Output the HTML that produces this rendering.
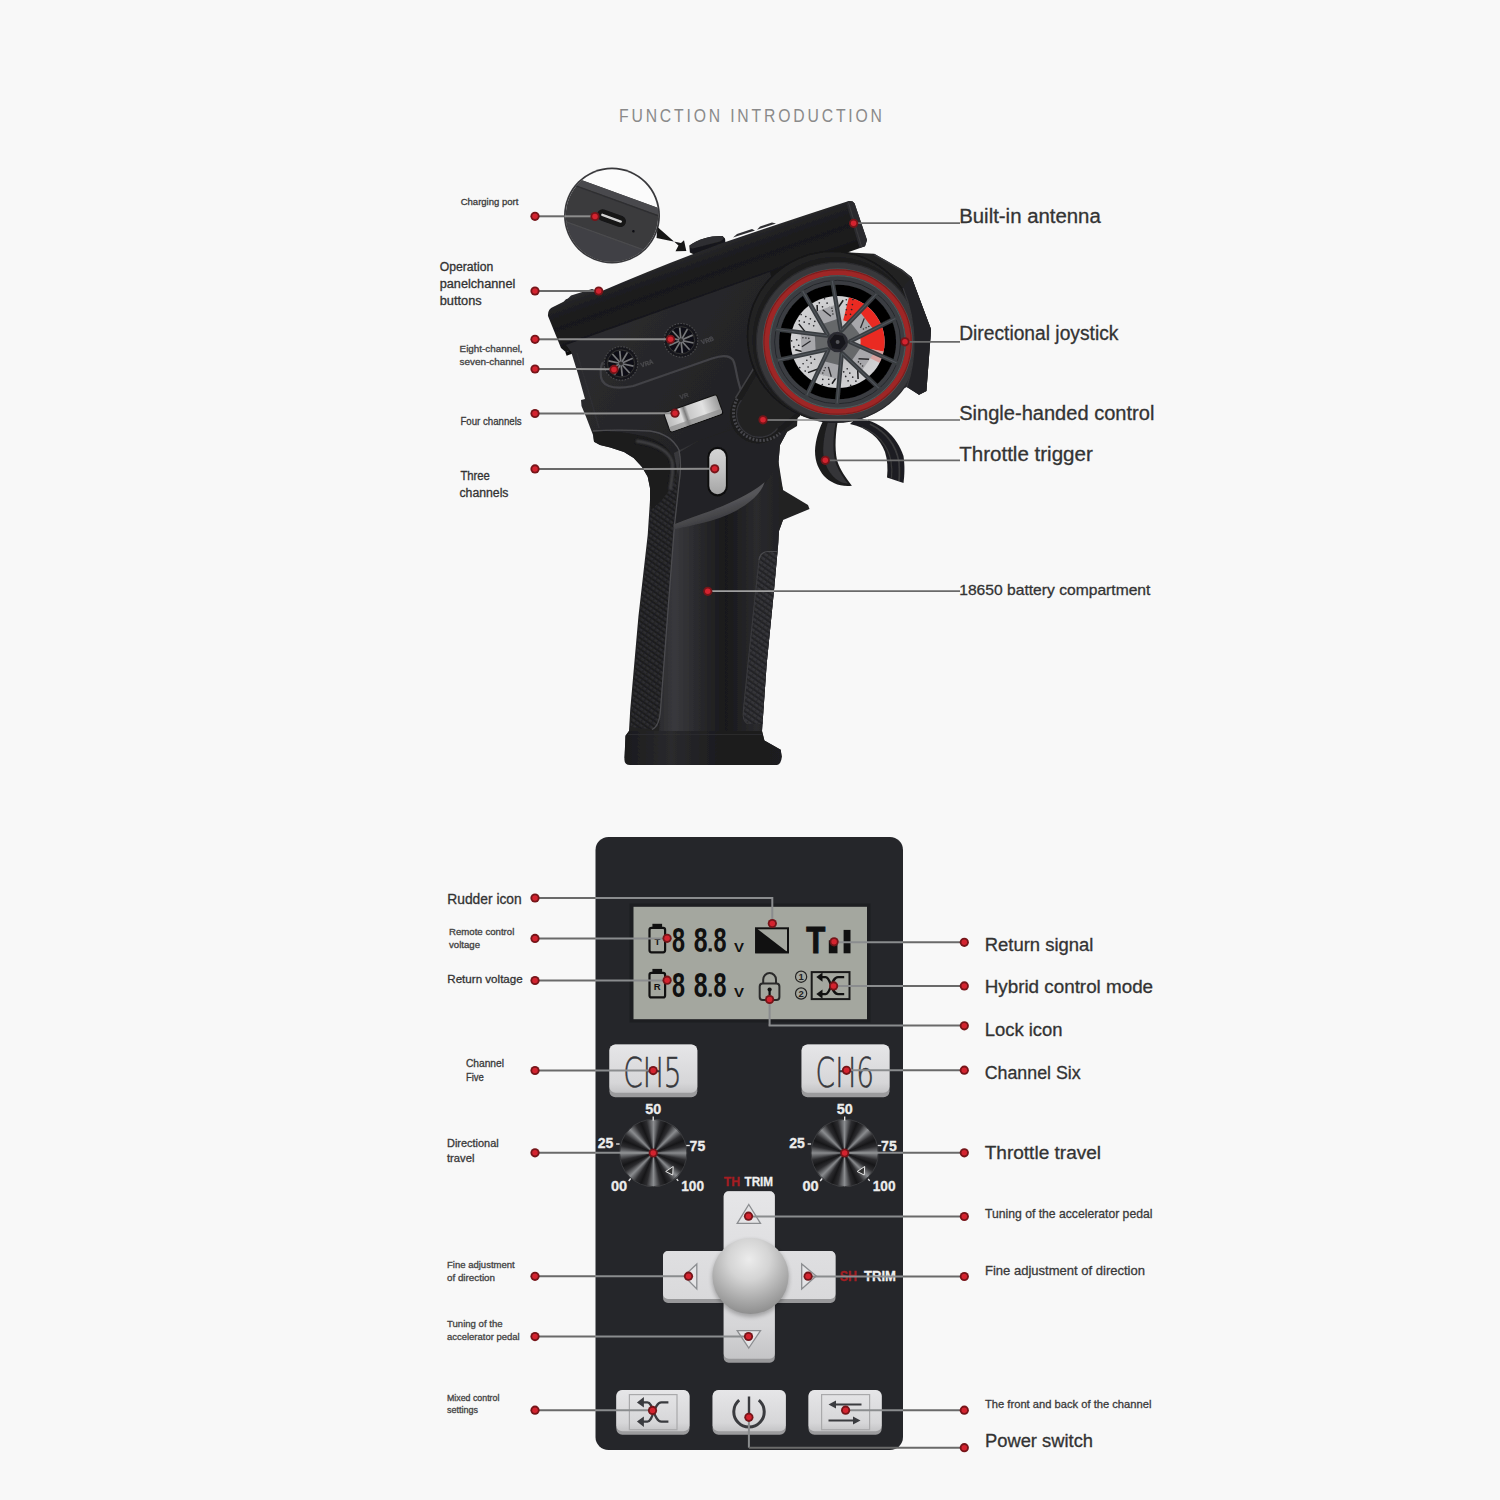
<!DOCTYPE html>
<html lang="en"><head><meta charset="utf-8"><title>Function Introduction</title>
<style>
html,body{margin:0;padding:0;background:#f8f8f8;}
body{width:1500px;height:1500px;overflow:hidden;font-family:"Liberation Sans",sans-serif;}
svg{display:block;}
svg text{font-family:"Liberation Sans",sans-serif;}
</style></head><body>
<svg width="1500" height="1500" viewBox="0 0 1500 1500">
<defs>

<linearGradient id="btnG" x1="0" y1="0" x2="0" y2="1"><stop offset="0" stop-color="#e6e6e8"/><stop offset="0.8" stop-color="#d6d6d8"/><stop offset="1" stop-color="#c4c4c6"/></linearGradient>
<radialGradient id="ballG" cx="0.48" cy="0.28" r="0.78"><stop offset="0" stop-color="#ececec"/><stop offset="0.35" stop-color="#d4d4d4"/><stop offset="0.7" stop-color="#a9a9a9"/><stop offset="1" stop-color="#858585"/></radialGradient>
<filter id="blur1" x="-20%" y="-20%" width="140%" height="140%"><feGaussianBlur stdDeviation="1"/></filter>
<filter id="blur2" x="-20%" y="-20%" width="140%" height="140%"><feGaussianBlur stdDeviation="2"/></filter>
<filter id="blur4" x="-30%" y="-30%" width="160%" height="160%"><feGaussianBlur stdDeviation="4"/></filter>
<filter id="blur05" x="-20%" y="-20%" width="140%" height="140%"><feGaussianBlur stdDeviation="0.5"/></filter>

</defs>
<rect width="1500" height="1500" fill="#f8f8f8"/>
<defs>
<linearGradient id="bandG" gradientUnits="userSpaceOnUse" x1="700" y1="250" x2="716" y2="295"><stop offset="0" stop-color="#29292c"/><stop offset="0.2" stop-color="#202022"/><stop offset="0.55" stop-color="#19191b"/><stop offset="0.85" stop-color="#1c1c1e"/><stop offset="1" stop-color="#131315"/></linearGradient>
<linearGradient id="gripG" gradientUnits="userSpaceOnUse" x1="660" y1="0" x2="780" y2="0"><stop offset="0" stop-color="#2c2c2f"/><stop offset="0.12" stop-color="#39393d"/><stop offset="0.3" stop-color="#2b2b2e"/><stop offset="0.55" stop-color="#19191b"/><stop offset="0.8" stop-color="#2a2a2d"/><stop offset="1" stop-color="#222224"/></linearGradient>
<linearGradient id="faceG" gradientUnits="userSpaceOnUse" x1="580" y1="360" x2="760" y2="470"><stop offset="0" stop-color="#2b2b2e"/><stop offset="0.5" stop-color="#252528"/><stop offset="1" stop-color="#202022"/></linearGradient>
<linearGradient id="silverG" x1="0" y1="0" x2="1" y2="0"><stop offset="0" stop-color="#b9b9b9"/><stop offset="0.28" stop-color="#dedede"/><stop offset="0.36" stop-color="#7d7d7d"/><stop offset="0.42" stop-color="#c9c9c9"/><stop offset="0.7" stop-color="#e2e2e2"/><stop offset="1" stop-color="#9c9c9c"/></linearGradient>
<linearGradient id="silverV" x1="0" y1="0" x2="0" y2="1"><stop offset="0" stop-color="#d4d4d4"/><stop offset="0.5" stop-color="#c2c2c2"/><stop offset="1" stop-color="#a5a5a5"/></linearGradient>
<pattern id="carbon" width="4.6" height="4.6" patternUnits="userSpaceOnUse" patternTransform="rotate(35)"><rect width="4.6" height="4.6" fill="#1c1c1e"/><rect width="4.6" height="2.5" fill="#2d2d30"/><rect x="0" y="0" width="1.4" height="4.6" fill="#1f1f21" opacity="0.7"/></pattern>
<pattern id="carbon2" width="4.6" height="4.6" patternUnits="userSpaceOnUse" patternTransform="rotate(35)"><rect width="4.6" height="4.6" fill="#222225"/><rect width="4.6" height="2.5" fill="#36363a"/><rect x="0" y="0" width="1.4" height="4.6" fill="#262629" opacity="0.7"/></pattern>
<radialGradient id="discG" cx="0.5" cy="0.5" r="0.5"><stop offset="0" stop-color="#a9a9ab"/><stop offset="0.5" stop-color="#c4c4c6"/><stop offset="1" stop-color="#d2d2d4"/></radialGradient>
<linearGradient id="ridgeG" gradientUnits="userSpaceOnUse" x1="715" y1="505" x2="720" y2="522"><stop offset="0" stop-color="#56565a"/><stop offset="1" stop-color="#38383b"/></linearGradient>
<linearGradient id="baseG" gradientUnits="userSpaceOnUse" x1="624" y1="0" x2="782" y2="0"><stop offset="0" stop-color="#1b1b1d"/><stop offset="0.3" stop-color="#2a2a2d"/><stop offset="0.65" stop-color="#1a1a1c"/><stop offset="1" stop-color="#1e1e20"/></linearGradient>
<filter id="txblur" filterUnits="userSpaceOnUse" x="530" y="150" width="420" height="630"><feGaussianBlur stdDeviation="0.55"/></filter>
<clipPath id="insetClip"><circle cx="612" cy="215.5" r="46.2"/></clipPath>
<clipPath id="discClip"><circle cx="837.6" cy="342" r="47"/></clipPath>
</defs>
<g id="tx" filter="url(#txblur)">
<g id="trigger">
<path d="M825 417 C819 428 815.500 440 815 451 C815 462 819 470 824 476 C831 483 840 487 851.900 485.700 C846 478 840 470 837 460 C834.500 448 835.500 432 838.500 417 Z" fill="#1c1c1e"/>
<path d="M829 419 C824.500 432 822.500 445 823.500 456 C825 466 830 474 836 479 C840 482 844 483.500 848 483.500 C842 476 836.500 468 834.500 458 C832.500 446 833.500 432 836.500 419 Z" fill="#343437"/>
<path d="M856 418 C880 420 897 436 903.5 456 C905 466 904.5 476 903.5 483 L887 477.5 C888 468 887.5 460 885 452 C880 438 868 428 850 424 Z" fill="#1f1f21"/>
<path d="M870 424 C886 432 896 446 899 462 C899.5 470 899.5 476 899 481" fill="none" stroke="#3b3b3e" stroke-width="1.6"/>
<path d="M862 427 C878 434 888 446 891 461 C892 468 892 474 891.5 478.500" fill="none" stroke="#38383b" stroke-width="1.2"/>
</g>
<path d="M760.0 300.0 L790.0 262.0 L840.0 252.0 L874.0 253.7 L902.0 269.6 L911.5 277.0 L931.0 329.3 L930.0 344.0 L926.4 391.0 L919.0 394.7 L906.8 387.0 L880.0 400.0 L800.0 410.0 L750.0 380.0 Z" fill="#222224"/>
<path d="M874 254.500 L902 270.4 L911 278 L930 330 L929 344" fill="none" stroke="#343437" stroke-width="1.5"/>
<path d="M911.5 278 L931 329.3 L930 344 L926.4 391 L919 394.7 L912 389 C920 365 922 330 905 285 Z" fill="#2a2a2d"/>
<path d="M567 299.500 L571 295.6 L592 289 L596.500 290.500 Z" fill="#2b2b2d"/>
<path d="M689.3 245.6 L689.9 252.500 L694 254.500 L725.5 243 L725 238.500 L722.4 236 C712 235.500 700 238 689.3 245.6 Z" fill="#19191b"/>
<path d="M690 245.200 C698 239 712 235.600 722.400 236 C724.500 237.500 724 239.500 720 241.500 C710 244 698 247.500 692.500 248.500 C690 248.500 689.500 246.500 690 245.200 Z" fill="#2d2d30"/>
<path d="M733 237.500 L737 234 L752 229 L755 230.500 Z" fill="#2f2f32"/>
<path d="M757 229.700 L760 226.6 L772 222.6 L776 223.400 Z" fill="#2f2f32"/>
<path d="M548 316 Q547.5 309 553.5 306.8 L563.500 301.8 L566 299.2 L595.5 289.7 L599 292.3 Q650 270.5 690 255.3 L724 242.6 Q790 220 848 201.3 Q852.5 200.2 854.6 203.500 L867 240 L865 246.2 L566 352.2 L561 348 Z" fill="url(#bandG)"/>
<path d="M848 201.3 Q852.5 200.2 854.6 203.500 L867 240 L865 246.2 L859.5 248 L846.5 204 Z" fill="#2b2b2e"/>
<path d="M848.500 202.5 L861.5 246.500" stroke="#3a3a3d" stroke-width="1" fill="none"/>
<path d="M566 354 L620 333.800 L694.700 306 L769.300 277.300" stroke="#0e0e10" stroke-width="3.500" fill="none" filter="url(#blur05)"/>
<path d="M571.0 351.5 L578.0 374.0 L585.0 399.0 L581.0 400.0 L581.5 406.0 L586.5 418.0 L593.0 435.0 L594.0 441.7 L600.0 445.0 L610.3 447.5 L624.0 452.0 L633.7 458.0 L642.0 467.0 L647.7 476.7 L650.0 488.0 L650.0 500.0 L647.7 535.0 L638.4 616.7 L630.2 710.0 L629.0 731.0 L625.5 735.8 L624.6 758.0 L629.0 763.0 L778.0 763.0 L781.5 756.8 L780.7 749.8 L764.4 740.5 L762.0 731.0 L766.7 663.4 L773.7 593.4 L778.4 542.0 L779.0 531.0 L783.0 520.0 L809.5 509.0 L808.0 505.0 L783.0 490.0 L780.0 478.0 L778.5 462.0 L780.0 445.0 L787.0 432.0 L797.0 426.0 L800.0 380.0 L770.0 272.0 L566.0 345.0 Z" fill="url(#faceG)"/>
<path d="M674.0 453.0 L679.0 480.0 L674.5 525.0 L667.5 616.7 L660.5 710.0 L659.0 731.0 L762.0 731.0 L766.7 663.4 L773.7 593.4 L778.4 542.0 L779.0 531.0 L783.0 520.0 L783.0 490.0 L778.5 462.0 L740.0 440.0 L700.0 440.0 Z" fill="url(#gripG)"/>
<path d="M680 452 L674.5 524.5 C700 515 740 503 764.4 485 L778.5 462 L780 445 L787 432 L760 420 L700 440 Z" fill="#232325"/>
<path d="M629 731 L625.5 735.8 L624.4 759.500 Q624.500 765 630 765 L777 765 Q781 764.500 781.9 756.8 L780.7 749.8 L764.4 740.5 L762 731 Z" fill="url(#baseG)"/>
<path d="M628 734.500 L762 734.500" stroke="#2e2e31" stroke-width="1.2" fill="none" opacity="0.8"/>
<path d="M651.0 500.0 L648.5 535.0 L639.5 616.7 L631.5 710.0 L630.5 727.0 L652.0 729.5 L658.0 726.0 L660.5 710.0 L667.5 616.7 L673.4 523.4 L677.0 490.0 L676.0 470.0 L655.0 470.0 Z" fill="url(#carbon)"/>
<path d="M759 560 Q760 551.5 769 551.5 L777.5 551.5 L773.7 593.4 L766.7 663.4 L762.5 724 L748 724 Q742 722 743.4 710 L748 663.4 L757.4 570 Z" fill="url(#carbon2)"/>
<path d="M759 560 Q760 551.5 769 551.5 L777.5 551.5" stroke="#4a4a4e" stroke-width="1.2" fill="none"/>
<path d="M759 560 L748 663.4 L743.4 710 Q742 722 748 724" stroke="#3a3a3d" stroke-width="1" fill="none"/>
<path d="M594 441.700 L600 445 L610.3 447.500 L624 452 L633.700 458 L642 467 L647.700 476.700 L650 488 L650 500 L651 510 C662 500 672 490 676 474 C678 458 668 444 650 438 C630 432 612 431 593 431 Z" fill="#1a1a1c"/>
<path d="M636 441 C652 443 668 449 672 461 C674 470 672 480 670 490" stroke="#424245" stroke-width="3" fill="none" filter="url(#blur1)"/>
<path d="M593 431 C612 429.500 632 430 650 431 C664 433 674 440 679 450 C681.500 462 680.500 474 679 484 L674.5 525 L667.5 616.7 L660.5 710 Q659.500 726 652 729.5" stroke="#4c4c50" stroke-width="1.3" fill="none"/>
<path d="M577 353 L591 400 L599 428" stroke="#303033" stroke-width="1.2" fill="none"/>
<path d="M673.500 524.500 C700 514 740 503 764.600 482.300 C760 498 738 513 710 521 C697 524.500 684 527 674 529.500 Z" fill="url(#ridgeG)"/>
<path d="M603 362 C600.500 366 600.500 369 600.7 372.7 C600 386 612 390.500 633.3 386 L712 358.500 C722 355 729 354.500 733 360 C736 366 736 374 738.500 382 C740 388 741 391 742 394" stroke="#424246" stroke-width="2.200" fill="none"/>
<circle cx="621" cy="363.5" r="16.8" fill="#19191b" stroke="#4a4a4e" stroke-width="1.1" stroke-dasharray="1.6 1.4"/>
<circle cx="621" cy="363.5" r="13.600000000000001" fill="#101012" stroke="#3a3a3d" stroke-width="0.8"/>
<path d="M621.0 363.5 L633.5 366.2" stroke="#77787c" stroke-width="1.700"/>
<path d="M621.0 363.5 L629.6 373.0" stroke="#77787c" stroke-width="1.700"/>
<path d="M621.0 363.5 L622.3 376.2" stroke="#77787c" stroke-width="1.700"/>
<path d="M621.0 363.5 L614.6 374.6" stroke="#77787c" stroke-width="1.700"/>
<path d="M621.0 363.5 L609.3 368.7" stroke="#77787c" stroke-width="1.700"/>
<path d="M621.0 363.5 L608.5 360.8" stroke="#77787c" stroke-width="1.700"/>
<path d="M621.0 363.5 L612.4 354.0" stroke="#77787c" stroke-width="1.700"/>
<path d="M621.0 363.5 L619.7 350.8" stroke="#77787c" stroke-width="1.700"/>
<path d="M621.0 363.5 L627.4 352.4" stroke="#77787c" stroke-width="1.700"/>
<path d="M621.0 363.5 L632.7 358.3" stroke="#77787c" stroke-width="1.700"/>
<circle cx="621" cy="363.5" r="2" fill="#2a2a2c"/>
<circle cx="681" cy="340.3" r="16.8" fill="#19191b" stroke="#4a4a4e" stroke-width="1.1" stroke-dasharray="1.6 1.4"/>
<circle cx="681" cy="340.3" r="13.600000000000001" fill="#101012" stroke="#3a3a3d" stroke-width="0.8"/>
<path d="M681.0 340.3 L693.5 343.0" stroke="#77787c" stroke-width="1.700"/>
<path d="M681.0 340.3 L689.6 349.8" stroke="#77787c" stroke-width="1.700"/>
<path d="M681.0 340.3 L682.3 353.0" stroke="#77787c" stroke-width="1.700"/>
<path d="M681.0 340.3 L674.6 351.4" stroke="#77787c" stroke-width="1.700"/>
<path d="M681.0 340.3 L669.3 345.5" stroke="#77787c" stroke-width="1.700"/>
<path d="M681.0 340.3 L668.5 337.6" stroke="#77787c" stroke-width="1.700"/>
<path d="M681.0 340.3 L672.4 330.8" stroke="#77787c" stroke-width="1.700"/>
<path d="M681.0 340.3 L679.7 327.6" stroke="#77787c" stroke-width="1.700"/>
<path d="M681.0 340.3 L687.4 329.2" stroke="#77787c" stroke-width="1.700"/>
<path d="M681.0 340.3 L692.7 335.1" stroke="#77787c" stroke-width="1.700"/>
<circle cx="681" cy="340.3" r="2" fill="#2a2a2c"/>
<text x="641.5" y="367.5" font-size="6.5" fill="#4a4a4d" font-weight="bold" text-anchor="start" textLength="13.0" lengthAdjust="spacingAndGlyphs" stroke="#4a4a4d" stroke-width="0.3" transform="rotate(-19 641.5 367.5)">VRA</text>
<text x="702.0" y="344.5" font-size="6.5" fill="#4a4a4d" font-weight="bold" text-anchor="start" textLength="13.0" lengthAdjust="spacingAndGlyphs" stroke="#4a4a4d" stroke-width="0.3" transform="rotate(-19 702 344.5)">VRB</text>
<g transform="rotate(-19.5 694 413.500)">
<rect x="665" y="402.5" width="57" height="21.500" rx="2.500" fill="#111"/>
<rect x="666" y="403.5" width="55" height="19.500" rx="2" fill="url(#silverG)"/>
<rect x="666" y="418" width="55" height="5" rx="2" fill="#8d8d8d" opacity="0.7"/>
</g>
<text x="680.5" y="399.5" font-size="6" fill="#444447" font-weight="bold" text-anchor="start" textLength="9.0" lengthAdjust="spacingAndGlyphs" stroke="#444447" stroke-width="0.3" transform="rotate(-19 680.5 399.5)">VR</text>
<rect x="707.4" y="446.8" width="20.400" height="49.600" rx="10.200" fill="#0e0e10"/>
<rect x="709.3" y="449" width="16.600" height="45.200" rx="8.300" fill="url(#silverV)"/>
<path d="M762 355 L735.500 398 A27.700 27.700 0 0 0 781 432 L800 416 L800 360 Z" fill="#1b1b1d"/>
<path d="M737.200 398.800 A27.700 27.700 0 0 0 780 433" fill="none" stroke="#47474b" stroke-width="3" stroke-dasharray="1.900 1.600"/>
<path d="M735.500 398 L762 355" stroke="#3f3f43" stroke-width="1.500" fill="none"/>
<path d="M764 362 L741.500 400 A22.500 22.500 0 0 0 777.500 428.500 L798 412 L798 366 Z" fill="#212124"/>
<path d="M741.500 400 A22.500 22.500 0 0 0 777.500 428.500" fill="none" stroke="#343438" stroke-width="1.300"/>
<circle cx="832" cy="336" r="85" fill="#222224"/>
<circle cx="832" cy="336" r="84.5" fill="none" stroke="#151517" stroke-width="1.6"/>
<circle cx="835.5" cy="340" r="83" fill="#1c1c1e"/>
<g transform="translate(0 342) scale(1 0.98) translate(0 -342)">
<circle cx="837.6" cy="342" r="81.3" fill="#38383b"/>
<circle cx="837.6" cy="342" r="81.3" fill="none" stroke="#2a2a2d" stroke-width="1.2"/>
<circle cx="837.6" cy="342" r="75" fill="#50575a"/>
<circle cx="837.6" cy="342" r="71.2" fill="none" stroke="#9f2725" stroke-width="6"/>
<circle cx="837.6" cy="342" r="73.6" fill="none" stroke="#7d1f1f" stroke-width="1.2"/>
<circle cx="837.6" cy="342" r="68.2" fill="#3b3e42"/>
<circle cx="837.6" cy="342" r="67.6" fill="none" stroke="#55605f" stroke-width="0.8"/>
<circle cx="837.6" cy="342" r="63" fill="none" stroke="#24262a" stroke-width="1"/>
<circle cx="837.6" cy="342" r="58.5" fill="#050506"/>
<circle cx="837.6" cy="342" r="47" fill="url(#discG)"/>
<g clip-path="url(#discClip)">
<path d="M849.2 295.4 A48 48 0 0 1 884.6 352.0 L860.1 346.8 A23 23 0 0 0 843.2 319.7 Z" fill="#ea2a20"/>
<path d="M884.6 352.0 A48 48 0 0 1 880.4 363.8 L858.1 352.4 A23 23 0 0 0 860.1 346.8 Z" fill="#dd7e79" opacity="0.55"/>
<path d="M839.8 372.9 L832.0 384.6" stroke="#1a1a1c" stroke-width="1.5"/>
<circle cx="829.3" cy="369.8" r="0.85" fill="#26262a"/>
<circle cx="824.7" cy="370.2" r="0.85" fill="#26262a"/>
<circle cx="828.9" cy="374.9" r="0.85" fill="#26262a"/>
<circle cx="823.6" cy="375.2" r="0.85" fill="#26262a"/>
<circle cx="828.7" cy="380.0" r="0.85" fill="#26262a"/>
<circle cx="822.8" cy="380.2" r="0.85" fill="#26262a"/>
<circle cx="828.9" cy="385.1" r="0.85" fill="#26262a"/>
<circle cx="822.3" cy="385.4" r="0.85" fill="#26262a"/>
<path d="M821.2 368.3 L808.0 373.2" stroke="#1a1a1c" stroke-width="1.5"/>
<circle cx="814.6" cy="359.6" r="0.85" fill="#26262a"/>
<circle cx="810.6" cy="357.2" r="0.85" fill="#26262a"/>
<circle cx="811.2" cy="363.4" r="0.85" fill="#26262a"/>
<circle cx="806.8" cy="360.6" r="0.85" fill="#26262a"/>
<circle cx="808.1" cy="367.5" r="0.85" fill="#26262a"/>
<circle cx="803.1" cy="364.2" r="0.85" fill="#26262a"/>
<circle cx="805.2" cy="371.7" r="0.85" fill="#26262a"/>
<circle cx="799.7" cy="368.1" r="0.85" fill="#26262a"/>
<path d="M808.9 353.6 L795.3 349.9" stroke="#1a1a1c" stroke-width="1.5"/>
<circle cx="808.6" cy="342.7" r="0.85" fill="#26262a"/>
<circle cx="806.8" cy="338.4" r="0.85" fill="#26262a"/>
<circle cx="803.6" cy="343.8" r="0.85" fill="#26262a"/>
<circle cx="801.7" cy="338.9" r="0.85" fill="#26262a"/>
<circle cx="798.7" cy="345.3" r="0.85" fill="#26262a"/>
<circle cx="796.7" cy="339.7" r="0.85" fill="#26262a"/>
<circle cx="793.9" cy="347.0" r="0.85" fill="#26262a"/>
<circle cx="791.6" cy="340.8" r="0.85" fill="#26262a"/>
<path d="M807.5 334.5 L798.8 323.5" stroke="#1a1a1c" stroke-width="1.5"/>
<circle cx="813.7" cy="325.5" r="0.85" fill="#26262a"/>
<circle cx="814.8" cy="321.0" r="0.85" fill="#26262a"/>
<circle cx="809.1" cy="323.5" r="0.85" fill="#26262a"/>
<circle cx="810.4" cy="318.4" r="0.85" fill="#26262a"/>
<circle cx="804.2" cy="321.8" r="0.85" fill="#26262a"/>
<circle cx="805.8" cy="316.1" r="0.85" fill="#26262a"/>
<circle cx="799.3" cy="320.4" r="0.85" fill="#26262a"/>
<circle cx="801.1" cy="314.0" r="0.85" fill="#26262a"/>
<path d="M817.7 318.3 L817.1 304.2" stroke="#1a1a1c" stroke-width="1.5"/>
<circle cx="828.0" cy="314.6" r="0.85" fill="#26262a"/>
<circle cx="831.5" cy="311.6" r="0.85" fill="#26262a"/>
<circle cx="825.4" cy="310.3" r="0.85" fill="#26262a"/>
<circle cx="829.5" cy="306.9" r="0.85" fill="#26262a"/>
<circle cx="822.5" cy="306.1" r="0.85" fill="#26262a"/>
<circle cx="827.1" cy="302.4" r="0.85" fill="#26262a"/>
<circle cx="819.3" cy="302.0" r="0.85" fill="#26262a"/>
<circle cx="824.5" cy="297.9" r="0.85" fill="#26262a"/>
<path d="M835.4 311.1 L843.2 299.4" stroke="#1a1a1c" stroke-width="1.5"/>
<circle cx="845.9" cy="314.2" r="0.85" fill="#26262a"/>
<circle cx="850.5" cy="313.8" r="0.85" fill="#26262a"/>
<circle cx="846.3" cy="309.1" r="0.85" fill="#26262a"/>
<circle cx="851.6" cy="308.8" r="0.85" fill="#26262a"/>
<circle cx="846.5" cy="304.0" r="0.85" fill="#26262a"/>
<circle cx="852.4" cy="303.8" r="0.85" fill="#26262a"/>
<circle cx="846.3" cy="298.9" r="0.85" fill="#26262a"/>
<circle cx="852.9" cy="298.6" r="0.85" fill="#26262a"/>
<path d="M857.5 365.7 L858.1 379.8" stroke="#1a1a1c" stroke-width="1.5"/>
<circle cx="847.2" cy="369.4" r="0.85" fill="#26262a"/>
<circle cx="843.7" cy="372.4" r="0.85" fill="#26262a"/>
<circle cx="849.8" cy="373.7" r="0.85" fill="#26262a"/>
<circle cx="845.7" cy="377.1" r="0.85" fill="#26262a"/>
<circle cx="852.7" cy="377.9" r="0.85" fill="#26262a"/>
<circle cx="848.1" cy="381.6" r="0.85" fill="#26262a"/>
<circle cx="855.9" cy="382.0" r="0.85" fill="#26262a"/>
<circle cx="850.7" cy="386.1" r="0.85" fill="#26262a"/>
</g>
<circle cx="837.6" cy="342" r="15" fill="#4a4b4f"/>
<path d="M828.8 336.8 L814.7 311.4 L836.3 303.8 L841.2 332.4 Z" fill="#a7a7ab"/>
<path d="M828.8 336.8 L821.6 323.9 L838.7 317.9 L841.2 332.4 Z" fill="#66676b"/>
<path d="M830.9 315.8 L822.7 309.2" stroke="#2a2a2d" stroke-width="1.3"/>
<circle cx="832.9" cy="313.4" r="0.8" fill="#333"/>
<circle cx="832.4" cy="310.4" r="0.8" fill="#333"/>
<circle cx="831.9" cy="307.5" r="0.8" fill="#333"/>
<path d="M839.9 332.0 L859.7 310.9 L873.6 329.2 L847.8 342.5 Z" fill="#a7a7ab"/>
<path d="M839.9 332.0 L850.0 321.3 L860.9 335.7 L847.8 342.5 Z" fill="#66676b"/>
<path d="M860.5 327.7 L864.3 317.9" stroke="#2a2a2d" stroke-width="1.3"/>
<circle cx="863.4" cy="328.8" r="0.8" fill="#333"/>
<circle cx="866.1" cy="327.4" r="0.8" fill="#333"/>
<circle cx="868.8" cy="326.1" r="0.8" fill="#333"/>
<path d="M847.8 341.0 L874.2 353.0 L861.2 372.0 L840.4 351.8 Z" fill="#a7a7ab"/>
<path d="M847.8 341.0 L861.2 347.1 L851.0 362.1 L840.4 351.8 Z" fill="#66676b"/>
<path d="M858.5 359.1 L869.0 359.6" stroke="#2a2a2d" stroke-width="1.3"/>
<circle cx="858.4" cy="362.3" r="0.8" fill="#333"/>
<circle cx="860.5" cy="364.3" r="0.8" fill="#333"/>
<circle cx="862.6" cy="366.4" r="0.8" fill="#333"/>
<path d="M841.9 351.3 L839.3 380.2 L817.1 374.2 L829.2 347.9 Z" fill="#a7a7ab"/>
<path d="M841.9 351.3 L840.6 366.0 L823.0 361.3 L829.2 347.9 Z" fill="#66676b"/>
<path d="M828.4 367.4 L831.3 377.5" stroke="#2a2a2d" stroke-width="1.3"/>
<circle cx="825.3" cy="368.3" r="0.8" fill="#333"/>
<circle cx="824.1" cy="371.0" r="0.8" fill="#333"/>
<circle cx="822.8" cy="373.7" r="0.8" fill="#333"/>
<path d="M830.1 348.9 L801.7 355.2 L800.7 332.2 L829.4 335.8 Z" fill="#a7a7ab"/>
<path d="M830.1 348.9 L815.7 352.1 L814.8 334.0 L829.4 335.8 Z" fill="#66676b"/>
<path d="M810.6 340.9 L801.9 346.8" stroke="#2a2a2d" stroke-width="1.3"/>
<circle cx="808.8" cy="338.3" r="0.8" fill="#333"/>
<circle cx="805.9" cy="337.9" r="0.8" fill="#333"/>
<circle cx="802.9" cy="337.6" r="0.8" fill="#333"/>
<path d="M827.6 334.5 L802.7 290.1" stroke="#393c40" stroke-width="4.4" fill="none" stroke-linecap="round"/>
<path d="M840.8 329.9 L832.3 279.7" stroke="#393c40" stroke-width="4.4" fill="none" stroke-linecap="round"/>
<path d="M841.6 330.2 L876.4 293.0" stroke="#393c40" stroke-width="4.4" fill="none" stroke-linecap="round"/>
<path d="M850.1 341.3 L895.3 318.0" stroke="#393c40" stroke-width="4.4" fill="none" stroke-linecap="round"/>
<path d="M850.1 342.1 L896.4 363.2" stroke="#393c40" stroke-width="4.4" fill="none" stroke-linecap="round"/>
<path d="M842.2 353.6 L878.8 389.0" stroke="#393c40" stroke-width="4.4" fill="none" stroke-linecap="round"/>
<path d="M841.7 353.8 L837.1 404.5" stroke="#393c40" stroke-width="4.4" fill="none" stroke-linecap="round"/>
<path d="M828.2 350.2 L806.8 396.4" stroke="#393c40" stroke-width="4.4" fill="none" stroke-linecap="round"/>
<path d="M827.6 349.5 L777.9 360.5" stroke="#393c40" stroke-width="4.4" fill="none" stroke-linecap="round"/>
<path d="M826.9 335.5 L776.4 329.2" stroke="#393c40" stroke-width="4.4" fill="none" stroke-linecap="round"/>
<path d="M827.6 334.5 L802.7 290.1" stroke="#50545a" stroke-width="1.1" fill="none"/>
<path d="M840.8 329.9 L832.3 279.7" stroke="#50545a" stroke-width="1.1" fill="none"/>
<path d="M841.6 330.2 L876.4 293.0" stroke="#50545a" stroke-width="1.1" fill="none"/>
<path d="M850.1 341.3 L895.3 318.0" stroke="#50545a" stroke-width="1.1" fill="none"/>
<path d="M850.1 342.1 L896.4 363.2" stroke="#50545a" stroke-width="1.1" fill="none"/>
<path d="M842.2 353.6 L878.8 389.0" stroke="#50545a" stroke-width="1.1" fill="none"/>
<path d="M841.7 353.8 L837.1 404.5" stroke="#50545a" stroke-width="1.1" fill="none"/>
<path d="M828.2 350.2 L806.8 396.4" stroke="#50545a" stroke-width="1.1" fill="none"/>
<path d="M827.6 349.5 L777.9 360.5" stroke="#50545a" stroke-width="1.1" fill="none"/>
<path d="M826.9 335.5 L776.4 329.2" stroke="#50545a" stroke-width="1.1" fill="none"/>
<circle cx="837.6" cy="342" r="10.5" fill="#2b2c30"/>
<path d="M845.7 343.4 L840.4 349.7 L832.3 348.3 L829.5 340.6 L834.8 334.3 L842.9 335.7 Z" fill="#17171a"/>
<circle cx="837.6" cy="342" r="2" fill="#55565a"/>
</g>
<path d="M906.8 387 C916 360 918 325 903 288 L911.5 277 L931 329.3 L930 344 L926.4 391 L919 394.7 Z" fill="#242427"/>
<path d="M903 288 C918 325 916 360 906.8 387" stroke="#37373a" stroke-width="1.2" fill="none"/>
<circle cx="612" cy="215.5" r="48" fill="#38383b"/>
<g clip-path="url(#insetClip)">
<rect x="560" y="165" width="104" height="101" fill="#fbfbfb"/>
<g transform="rotate(20 612 215.5)">
<rect x="540" y="192.500" width="150" height="100" fill="#3a3a3d"/>
<rect x="540" y="192.500" width="150" height="7" fill="#4a4a4d"/>
<rect x="540" y="199.300" width="150" height="1.200" fill="#2e2e30"/>
<rect x="540" y="237" width="150" height="60" fill="#414144"/>
<rect x="540" y="236.400" width="150" height="1.200" fill="#4c4c4f"/>
<rect x="597.500" y="212.500" width="30" height="11.400" rx="5.700" fill="#121214"/>
<rect x="601.500" y="217" width="22" height="2.400" rx="1.200" fill="#d0d0d0"/>
<circle cx="637.5" cy="223" r="1.300" fill="#101012"/>
</g></g>
<path d="M657.500 227 L678.500 245.500 L675.5 251.300 L686.300 251 L684 240.300 L681 243 L656.500 238 Z" fill="#151517"/>
</g>
<g id="panel">
<rect x="595.5" y="837" width="307.5" height="613" rx="13" ry="13" fill="#25262a"/>
<rect x="629.5" y="903.5" width="241" height="119" fill="#1d1e21"/>
<rect x="633.5" y="906.8" width="233.5" height="112.4" fill="#a4a79f"/>
<rect x="649.5" y="927.8" width="15.6" height="24.5" rx="2" fill="none" stroke="#111" stroke-width="2.2"/>
<rect x="652.4" y="923.8" width="9.7" height="3.4" fill="#111"/>
<text x="657.3" y="945.0" font-size="9.5" font-weight="bold" fill="#111" text-anchor="middle">T</text>
<text x="672.0" y="951.6" font-size="35.2" font-weight="bold" fill="#111" textLength="13.0" lengthAdjust="spacingAndGlyphs">8</text>
<text x="693.7" y="951.6" font-size="35.2" font-weight="bold" fill="#111" textLength="13.8" lengthAdjust="spacingAndGlyphs">8</text>
<rect x="708.6" y="948.3" width="3.2" height="3.2" fill="#111"/>
<text x="713.6" y="951.6" font-size="35.2" font-weight="bold" fill="#111" textLength="13.0" lengthAdjust="spacingAndGlyphs">8</text>
<text x="734" y="951.6" font-size="13.5" font-weight="bold" fill="#111" textLength="10" lengthAdjust="spacingAndGlyphs">V</text>
<rect x="649.5" y="972.9" width="15.6" height="24.5" rx="2" fill="none" stroke="#111" stroke-width="2.2"/>
<rect x="652.4" y="968.9" width="9.7" height="3.4" fill="#111"/>
<text x="657.3" y="990.1" font-size="9.5" font-weight="bold" fill="#111" text-anchor="middle">R</text>
<text x="672.0" y="996.7" font-size="35.2" font-weight="bold" fill="#111" textLength="13.0" lengthAdjust="spacingAndGlyphs">8</text>
<text x="693.7" y="996.7" font-size="35.2" font-weight="bold" fill="#111" textLength="13.8" lengthAdjust="spacingAndGlyphs">8</text>
<rect x="708.6" y="993.4" width="3.2" height="3.2" fill="#111"/>
<text x="713.6" y="996.7" font-size="35.2" font-weight="bold" fill="#111" textLength="13.0" lengthAdjust="spacingAndGlyphs">8</text>
<text x="734" y="996.7" font-size="13.5" font-weight="bold" fill="#111" textLength="10" lengthAdjust="spacingAndGlyphs">V</text>
<rect x="756.2" y="928.3" width="31.8" height="24" fill="#a4a79f" stroke="#111" stroke-width="2"/>
<path d="M755.2 927.3 L789 953.3 L755.2 953.3 Z" fill="#111"/>
<text x="806.3" y="953.3" font-size="36.3" font-weight="bold" fill="#111" stroke="#111" stroke-width="1" textLength="19" lengthAdjust="spacingAndGlyphs">T</text>
<rect x="828.8" y="940.3" width="8.7" height="13" fill="#111"/>
<rect x="843.6" y="929.9" width="6.9" height="23.4" fill="#111"/>
<path d="M763.2 983.5 V979.5 A6.4 6.4 0 0 1 776 979.5 V983.5" fill="none" stroke="#2a2a2a" stroke-width="2"/>
<rect x="759.7" y="983.5" width="19.7" height="16.5" rx="3" fill="none" stroke="#2a2a2a" stroke-width="2"/>
<circle cx="769.6" cy="989.5" r="2.1" fill="#111"/><rect x="768.5" y="989.5" width="2.2" height="6" fill="#111"/>
<circle cx="801.1" cy="976.7" r="5.6" fill="none" stroke="#222" stroke-width="1.2"/>
<text x="801.1" y="980.1" font-size="9.5" font-weight="bold" fill="#222" text-anchor="middle">1</text>
<circle cx="801.1" cy="993.5" r="5.6" fill="none" stroke="#222" stroke-width="1.2"/>
<text x="801.1" y="996.9" font-size="9.5" font-weight="bold" fill="#222" text-anchor="middle">2</text>
<rect x="811.7" y="972.1" width="37.8" height="27" fill="none" stroke="#1a1a1a" stroke-width="2"/>
<g fill="none" stroke="#111" stroke-width="2.4" stroke-linecap="butt">
<path d="M821.4 977.1 H825.6 C831.0 977.1 831.0 994.1 838.0 994.1 H844.2"/>
<path d="M821.4 994.1 H825.6 C831.0 994.1 831.0 977.1 838.0 977.1 H844.2"/>
</g>
<path d="M816.3 977.1 L822.5 972.4 L822.5 981.7 Z" fill="#111"/>
<path d="M816.3 994.1 L822.5 989.5 L822.5 998.8 Z" fill="#111"/>
<rect x="609.4" y="1044.4" width="87.9" height="52.8" rx="6" fill="#9b9b9d"/>
<rect x="609.4" y="1044.4" width="87.9" height="48.3" rx="6" fill="url(#btnG)"/>
<rect x="801.6" y="1044.4" width="87.9" height="52.8" rx="6" fill="#9b9b9d"/>
<rect x="801.6" y="1044.4" width="87.9" height="48.3" rx="6" fill="url(#btnG)"/>
<text x="623.2" y="1086.6" font-size="40" font-weight="200" fill="#36373b" stroke="#36373b" stroke-width="0.5" textLength="58.4" lengthAdjust="spacingAndGlyphs" style='font-family:"DejaVu Sans", "Liberation Sans", sans-serif;font-weight:200'>CH5</text>
<text x="815.6" y="1086.6" font-size="40" font-weight="200" fill="#36373b" stroke="#36373b" stroke-width="0.5" textLength="58.4" lengthAdjust="spacingAndGlyphs" style='font-family:"DejaVu Sans", "Liberation Sans", sans-serif;font-weight:200'>CH6</text>
<foreignObject x="619.6" y="1119.4" width="67.2" height="67.2"><div style="width:67.2px;height:67.2px;border-radius:50%;background:conic-gradient(from -22.5deg, #161618 0.0deg, #2c2c2f 9.9deg, #8a8c8f 22.5deg, #2c2c2f 35.1deg, #161618 45.0deg, #2c2c2f 54.9deg, #8a8c8f 67.5deg, #2c2c2f 80.1deg, #161618 90.0deg, #2c2c2f 99.9deg, #8a8c8f 112.5deg, #2c2c2f 125.1deg, #161618 135.0deg, #2c2c2f 144.9deg, #8a8c8f 157.5deg, #2c2c2f 170.1deg, #161618 180.0deg, #2c2c2f 189.9deg, #8a8c8f 202.5deg, #2c2c2f 215.1deg, #161618 225.0deg, #2c2c2f 234.9deg, #8a8c8f 247.5deg, #2c2c2f 260.1deg, #161618 270.0deg, #2c2c2f 279.9deg, #8a8c8f 292.5deg, #2c2c2f 305.1deg, #161618 315.0deg, #2c2c2f 324.9deg, #8a8c8f 337.5deg, #2c2c2f 350.1deg, #161618 360deg);"></div></foreignObject>
<circle cx="653.2" cy="1153" r="33.6" fill="none" stroke="#3a3b3e" stroke-width="1"/>
<path d="M665.7 1171.5 L673.2 1166.5 L672.7 1175.0 Z" fill="#333" stroke="#e8e8e8" stroke-width="1"/>
<text x="653.2" y="1113.8" font-size="14.5" fill="#ececec" font-weight="bold" text-anchor="middle" textLength="16.0" lengthAdjust="spacingAndGlyphs" stroke="#ececec" stroke-width="0.3">50</text>
<text x="597.8" y="1148.1" font-size="14.5" fill="#ececec" font-weight="bold" text-anchor="start" textLength="15.6" lengthAdjust="spacingAndGlyphs" stroke="#ececec" stroke-width="0.3">25</text>
<text x="689.6" y="1150.5" font-size="14.5" fill="#ececec" font-weight="bold" text-anchor="start" textLength="15.6" lengthAdjust="spacingAndGlyphs" stroke="#ececec" stroke-width="0.3">75</text>
<text x="611.0" y="1190.8" font-size="14.5" fill="#ececec" font-weight="bold" text-anchor="start" textLength="16.2" lengthAdjust="spacingAndGlyphs" stroke="#ececec" stroke-width="0.3">00</text>
<text x="681.2" y="1190.8" font-size="14.5" fill="#ececec" font-weight="bold" text-anchor="start" textLength="22.8" lengthAdjust="spacingAndGlyphs" stroke="#ececec" stroke-width="0.3">100</text>
<g stroke="#ececec" stroke-width="1.3">
<path d="M653.2 1116.4 V1120.4"/>
<path d="M616.1 1144.0 h3.5"/>
<path d="M686.3 1145.5 h3.5"/>
<path d="M630.7 1178.5 l-2 2.5"/>
<path d="M676.7 1179.0 l1.5 1.8"/>
</g>
<foreignObject x="811.1" y="1119.4" width="67.2" height="67.2"><div style="width:67.2px;height:67.2px;border-radius:50%;background:conic-gradient(from -22.5deg, #161618 0.0deg, #2c2c2f 9.9deg, #8a8c8f 22.5deg, #2c2c2f 35.1deg, #161618 45.0deg, #2c2c2f 54.9deg, #8a8c8f 67.5deg, #2c2c2f 80.1deg, #161618 90.0deg, #2c2c2f 99.9deg, #8a8c8f 112.5deg, #2c2c2f 125.1deg, #161618 135.0deg, #2c2c2f 144.9deg, #8a8c8f 157.5deg, #2c2c2f 170.1deg, #161618 180.0deg, #2c2c2f 189.9deg, #8a8c8f 202.5deg, #2c2c2f 215.1deg, #161618 225.0deg, #2c2c2f 234.9deg, #8a8c8f 247.5deg, #2c2c2f 260.1deg, #161618 270.0deg, #2c2c2f 279.9deg, #8a8c8f 292.5deg, #2c2c2f 305.1deg, #161618 315.0deg, #2c2c2f 324.9deg, #8a8c8f 337.5deg, #2c2c2f 350.1deg, #161618 360deg);"></div></foreignObject>
<circle cx="844.7" cy="1153" r="33.6" fill="none" stroke="#3a3b3e" stroke-width="1"/>
<path d="M857.2 1171.5 L864.7 1166.5 L864.2 1175.0 Z" fill="#333" stroke="#e8e8e8" stroke-width="1"/>
<text x="844.7" y="1113.8" font-size="14.5" fill="#ececec" font-weight="bold" text-anchor="middle" textLength="16.0" lengthAdjust="spacingAndGlyphs" stroke="#ececec" stroke-width="0.3">50</text>
<text x="789.3" y="1148.1" font-size="14.5" fill="#ececec" font-weight="bold" text-anchor="start" textLength="15.6" lengthAdjust="spacingAndGlyphs" stroke="#ececec" stroke-width="0.3">25</text>
<text x="881.1" y="1150.5" font-size="14.5" fill="#ececec" font-weight="bold" text-anchor="start" textLength="15.6" lengthAdjust="spacingAndGlyphs" stroke="#ececec" stroke-width="0.3">75</text>
<text x="802.5" y="1190.8" font-size="14.5" fill="#ececec" font-weight="bold" text-anchor="start" textLength="16.2" lengthAdjust="spacingAndGlyphs" stroke="#ececec" stroke-width="0.3">00</text>
<text x="872.7" y="1190.8" font-size="14.5" fill="#ececec" font-weight="bold" text-anchor="start" textLength="22.8" lengthAdjust="spacingAndGlyphs" stroke="#ececec" stroke-width="0.3">100</text>
<g stroke="#ececec" stroke-width="1.3">
<path d="M844.7 1116.4 V1120.4"/>
<path d="M807.6 1144.0 h3.5"/>
<path d="M877.8 1145.5 h3.5"/>
<path d="M822.2 1178.5 l-2 2.5"/>
<path d="M868.2 1179.0 l1.5 1.8"/>
</g>
<text x="723.7" y="1186.0" font-size="13.5" fill="#a51d22" font-weight="bold" text-anchor="start" textLength="16.4" lengthAdjust="spacingAndGlyphs" stroke="#a51d22" stroke-width="0.3">TH</text>
<text x="744.5" y="1186.0" font-size="13.5" fill="#f0f0f0" font-weight="bold" text-anchor="start" textLength="28.6" lengthAdjust="spacingAndGlyphs" stroke="#f0f0f0" stroke-width="0.3">TRIM</text>
<text x="839.8" y="1280.5" font-size="14.5" fill="#a51d22" font-weight="bold" text-anchor="start" textLength="17.3" lengthAdjust="spacingAndGlyphs" stroke="#a51d22" stroke-width="0.3">SH</text>
<text x="864.0" y="1280.5" font-size="14.5" fill="#f0f0f0" font-weight="bold" text-anchor="start" textLength="32.0" lengthAdjust="spacingAndGlyphs" stroke="#f0f0f0" stroke-width="0.3">TRIM</text>
<path d="M728.7 1191.2 H769.8 a5 5 0 0 1 5 5 V1251 H830.5 a5 5 0 0 1 5 5 V1298 a5 5 0 0 1 -5 5 H774.8 V1357.8 a5 5 0 0 1 -5 5 H728.7 a5 5 0 0 1 -5 -5 V1303 H668 a5 5 0 0 1 -5 -5 V1256 a5 5 0 0 1 5 -5 H723.7 V1196.2 a5 5 0 0 1 5 -5 Z" fill="#98989a"/>
<path d="M728.7 1191.2 H769.8 a5 5 0 0 1 5 5 V1251 H830.5 a5 5 0 0 1 5 5 V1294 a5 5 0 0 1 -5 5 H774.8 V1353.8 a5 5 0 0 1 -5 5 H728.7 a5 5 0 0 1 -5 -5 V1299 H668 a5 5 0 0 1 -5 -5 V1256 a5 5 0 0 1 5 -5 H723.7 V1196.2 a5 5 0 0 1 5 -5 Z" fill="url(#btnG)"/>
<g fill="#e4e4e6" stroke="#8b8d90" stroke-width="1.3" stroke-linejoin="miter">
<path d="M748.8 1204.5 L760.5 1223.3 H737.2 Z"/>
<path d="M748.8 1348 L760.5 1330.7 H737.2 Z"/>
<path d="M684 1276 L696.8 1264 V1289 Z"/>
<path d="M816.2 1276 L801.7 1264 V1289 Z"/>
</g>
<circle cx="750.5" cy="1278.5" r="38.5" fill="#000" opacity="0.25" filter="url(#blur2)"/>
<circle cx="750.5" cy="1276.1" r="38" fill="url(#ballG)"/>
<rect x="616.3" y="1390.0" width="73.2" height="44.7" rx="6" fill="#9b9b9d"/>
<rect x="616.3" y="1390.0" width="73.2" height="41.2" rx="6" fill="url(#btnG)"/>
<rect x="712.6" y="1390.0" width="73.2" height="44.7" rx="6" fill="#9b9b9d"/>
<rect x="712.6" y="1390.0" width="73.2" height="41.2" rx="6" fill="url(#btnG)"/>
<rect x="808.5" y="1390.0" width="73.2" height="44.7" rx="6" fill="#9b9b9d"/>
<rect x="808.5" y="1390.0" width="73.2" height="41.2" rx="6" fill="url(#btnG)"/>
<rect x="629.4" y="1394.6" width="47.6" height="35.1" fill="none" stroke="#a9a9ab" stroke-width="1.2"/>
<rect x="821.6" y="1394.6" width="48" height="35.1" fill="none" stroke="#a9a9ab" stroke-width="1.2"/>
<g fill="none" stroke="#3a3b3f" stroke-width="2.2" stroke-linecap="butt">
<path d="M642.6 1402.4 H647.4 C653.5 1402.4 653.5 1421.6 661.4 1421.6 H668.4"/>
<path d="M642.6 1421.6 H647.4 C653.5 1421.6 653.5 1402.4 661.4 1402.4 H668.4"/>
</g>
<path d="M636.9 1402.4 L643.9 1397.1 L643.9 1407.6 Z" fill="#3a3b3f"/>
<path d="M636.9 1421.6 L643.9 1416.4 L643.9 1426.9 Z" fill="#3a3b3f"/>
<path d="M739.2 1400.2 A15.2 15.2 0 1 0 758.8 1400.2" fill="none" stroke="#3a3b3f" stroke-width="3"/>
<path d="M749 1396.5 V1417" stroke="#3a3b3f" stroke-width="2.4"/>
<g stroke="#3a3b3f" stroke-width="2" fill="#3a3b3f">
<path d="M834 1404.5 H861.5" fill="none"/><path d="M828.5 1404.5 L836 1400.5 V1408.500 Z" stroke="none"/>
<path d="M828.5 1420.5 H854" fill="none"/><path d="M860.5 1420.5 L853 1416.5 V1424.5 Z" stroke="none"/>
</g>
</g>
<text x="619" y="122" font-size="17.5" fill="#8a8a8a" textLength="292.2" lengthAdjust="spacing" transform="translate(619 0) scale(0.9 1) translate(-619 0)">FUNCTION INTRODUCTION</text>
<path d="M535.0 216.3 L564.5 216.3" fill="none" stroke="#6a6a6a" stroke-width="2.0" opacity="1"/>
<path d="M564.5 216.3 L595.0 216.3" fill="none" stroke="#8c8c8c" stroke-width="2.0" opacity="1"/>
<path d="M535.0 291.0 L598.7 291.0" fill="none" stroke="#6a6a6a" stroke-width="2.0" opacity="1"/>
<path d="M535.0 339.3 L559.0 339.3" fill="none" stroke="#6a6a6a" stroke-width="2.0" opacity="1"/>
<path d="M559.0 339.3 L670.5 339.3" fill="none" stroke="#8c8c8c" stroke-width="2.0" opacity="1"/>
<path d="M535.0 369.0 L576.0 369.0" fill="none" stroke="#6a6a6a" stroke-width="2.0" opacity="1"/>
<path d="M576.0 369.0 L614.0 369.3" fill="none" stroke="#8c8c8c" stroke-width="2.0" opacity="1"/>
<path d="M535.0 413.5 L584.0 413.5" fill="none" stroke="#6a6a6a" stroke-width="2.0" opacity="1"/>
<path d="M584.0 413.5 L675.0 413.3" fill="none" stroke="#8c8c8c" stroke-width="2.0" opacity="1"/>
<path d="M535.0 468.9 L644.0 468.9" fill="none" stroke="#6a6a6a" stroke-width="2.0" opacity="1"/>
<path d="M644.0 468.9 L714.7 468.8" fill="none" stroke="#8c8c8c" stroke-width="2.0" opacity="1"/>
<path d="M853.6 223.2 L960.0 223.2" fill="none" stroke="#6a6a6a" stroke-width="1.7" opacity="1"/>
<path d="M905.0 341.8 L960.0 341.8" fill="none" stroke="#6a6a6a" stroke-width="1.7" opacity="1"/>
<path d="M763.0 420.0 L868.0 420.0" fill="none" stroke="#8c8c8c" stroke-width="1.7" opacity="1"/>
<path d="M868.0 420.0 L960.0 420.0" fill="none" stroke="#6a6a6a" stroke-width="1.7" opacity="1"/>
<path d="M825.3 460.3 L960.0 460.3" fill="none" stroke="#6a6a6a" stroke-width="1.7" opacity="1"/>
<path d="M707.8 591.2 L774.0 591.2" fill="none" stroke="#a0a0a0" stroke-width="1.7" opacity="1"/>
<path d="M774.0 591.2 L960.0 591.2" fill="none" stroke="#6a6a6a" stroke-width="1.7" opacity="1"/>
<circle cx="535.0" cy="216.3" r="4.6" fill="#761519"/><circle cx="535.0" cy="216.3" r="2.76" fill="#d4232f"/>
<circle cx="595.0" cy="216.5" r="4.6" fill="#761519"/><circle cx="595.0" cy="216.5" r="2.76" fill="#d4232f"/>
<circle cx="535.0" cy="291.0" r="4.6" fill="#761519"/><circle cx="535.0" cy="291.0" r="2.76" fill="#d4232f"/>
<circle cx="598.7" cy="291.0" r="4.6" fill="#761519"/><circle cx="598.7" cy="291.0" r="2.76" fill="#d4232f"/>
<circle cx="535.0" cy="339.3" r="4.6" fill="#761519"/><circle cx="535.0" cy="339.3" r="2.76" fill="#d4232f"/>
<circle cx="670.5" cy="339.3" r="4.6" fill="#761519"/><circle cx="670.5" cy="339.3" r="2.76" fill="#d4232f"/>
<circle cx="535.0" cy="369.0" r="4.6" fill="#761519"/><circle cx="535.0" cy="369.0" r="2.76" fill="#d4232f"/>
<circle cx="614.0" cy="369.4" r="4.6" fill="#761519"/><circle cx="614.0" cy="369.4" r="2.76" fill="#d4232f"/>
<circle cx="535.0" cy="413.5" r="4.6" fill="#761519"/><circle cx="535.0" cy="413.5" r="2.76" fill="#d4232f"/>
<circle cx="675.0" cy="413.2" r="4.6" fill="#761519"/><circle cx="675.0" cy="413.2" r="2.76" fill="#d4232f"/>
<circle cx="535.0" cy="468.9" r="4.6" fill="#761519"/><circle cx="535.0" cy="468.9" r="2.76" fill="#d4232f"/>
<circle cx="714.7" cy="468.8" r="4.6" fill="#761519"/><circle cx="714.7" cy="468.8" r="2.76" fill="#d4232f"/>
<circle cx="853.6" cy="223.3" r="4.6" fill="#761519"/><circle cx="853.6" cy="223.3" r="2.76" fill="#d4232f"/>
<circle cx="905.0" cy="341.8" r="4.6" fill="#761519"/><circle cx="905.0" cy="341.8" r="2.76" fill="#d4232f"/>
<circle cx="763.0" cy="419.8" r="4.6" fill="#761519"/><circle cx="763.0" cy="419.8" r="2.76" fill="#d4232f"/>
<circle cx="825.3" cy="460.3" r="4.6" fill="#761519"/><circle cx="825.3" cy="460.3" r="2.76" fill="#d4232f"/>
<circle cx="707.8" cy="591.3" r="4.6" fill="#761519"/><circle cx="707.8" cy="591.3" r="2.76" fill="#d4232f"/>
<text x="460.7" y="205.0" font-size="9.5" fill="#3c3c3c" font-weight="normal" text-anchor="start" textLength="57.7" lengthAdjust="spacingAndGlyphs" stroke="#3c3c3c" stroke-width="0.3">Charging port</text>
<text x="439.7" y="271.2" font-size="12" fill="#333" font-weight="normal" text-anchor="start" textLength="53.5" lengthAdjust="spacingAndGlyphs" stroke="#333" stroke-width="0.3">Operation</text>
<text x="439.7" y="288.0" font-size="12" fill="#333" font-weight="normal" text-anchor="start" textLength="75.6" lengthAdjust="spacingAndGlyphs" stroke="#333" stroke-width="0.3">panelchannel</text>
<text x="439.7" y="304.6" font-size="12" fill="#333" font-weight="normal" text-anchor="start" textLength="42.0" lengthAdjust="spacingAndGlyphs" stroke="#333" stroke-width="0.3">buttons</text>
<text x="459.6" y="351.8" font-size="9" fill="#444" font-weight="normal" text-anchor="start" textLength="63.0" lengthAdjust="spacingAndGlyphs" stroke="#444" stroke-width="0.3">Eight-channel,</text>
<text x="459.6" y="364.6" font-size="9" fill="#444" font-weight="normal" text-anchor="start" textLength="64.5" lengthAdjust="spacingAndGlyphs" stroke="#444" stroke-width="0.3">seven-channel</text>
<text x="460.4" y="425.2" font-size="10.5" fill="#3a3a3a" font-weight="normal" text-anchor="start" textLength="61.3" lengthAdjust="spacingAndGlyphs" stroke="#3a3a3a" stroke-width="0.3">Four channels</text>
<text x="460.4" y="479.6" font-size="12" fill="#333" font-weight="normal" text-anchor="start" textLength="29.5" lengthAdjust="spacingAndGlyphs" stroke="#333" stroke-width="0.3">Three</text>
<text x="459.5" y="496.7" font-size="12" fill="#333" font-weight="normal" text-anchor="start" textLength="49.0" lengthAdjust="spacingAndGlyphs" stroke="#333" stroke-width="0.3">channels</text>
<text x="959.2" y="222.8" font-size="20" fill="#333" font-weight="normal" text-anchor="start" textLength="141.6" lengthAdjust="spacingAndGlyphs" stroke="#333" stroke-width="0.3">Built-in antenna</text>
<text x="959.2" y="340.4" font-size="20" fill="#333" font-weight="normal" text-anchor="start" textLength="159.2" lengthAdjust="spacingAndGlyphs" stroke="#333" stroke-width="0.3">Directional joystick</text>
<text x="959.2" y="420.1" font-size="20" fill="#333" font-weight="normal" text-anchor="start" textLength="195.2" lengthAdjust="spacingAndGlyphs" stroke="#333" stroke-width="0.3">Single-handed control</text>
<text x="959.2" y="461.2" font-size="20" fill="#333" font-weight="normal" text-anchor="start" textLength="133.6" lengthAdjust="spacingAndGlyphs" stroke="#333" stroke-width="0.3">Throttle trigger</text>
<text x="959.2" y="595.3" font-size="15" fill="#333" font-weight="normal" text-anchor="start" textLength="191.2" lengthAdjust="spacingAndGlyphs" stroke="#333" stroke-width="0.3">18650 battery compartment</text>
<path d="M535.0 898.0 L595.5 898.0" fill="none" stroke="#6a6a6a" stroke-width="2.0" opacity="1"/>
<path d="M595.5 898.0 L772.3 898.0" fill="none" stroke="#8a8c8e" stroke-width="2.0" opacity="1"/>
<path d="M772.3 897.0 L772.3 923.0" fill="none" stroke="#8a8c8e" stroke-width="2.0" opacity="1"/>
<path d="M535.0 938.4 L595.5 938.4" fill="none" stroke="#6a6a6a" stroke-width="2.0" opacity="1"/>
<path d="M595.5 938.4 L667.1 938.4" fill="none" stroke="#8a8c8e" stroke-width="2.0" opacity="1"/>
<path d="M535.0 980.5 L595.5 980.5" fill="none" stroke="#6a6a6a" stroke-width="2.0" opacity="1"/>
<path d="M595.5 980.5 L667.1 980.5" fill="none" stroke="#8a8c8e" stroke-width="2.0" opacity="1"/>
<path d="M535.0 1070.5 L595.5 1070.5" fill="none" stroke="#6a6a6a" stroke-width="2.0" opacity="1"/>
<path d="M595.5 1070.5 L653.2 1070.5" fill="none" stroke="#8a8c8e" stroke-width="2.0" opacity="1"/>
<path d="M535.0 1152.8 L595.5 1152.8" fill="none" stroke="#6a6a6a" stroke-width="2.0" opacity="1"/>
<path d="M595.5 1152.8 L653.2 1152.8" fill="none" stroke="#8a8c8e" stroke-width="2.0" opacity="1"/>
<path d="M535.0 1276.3 L595.5 1276.3" fill="none" stroke="#6a6a6a" stroke-width="2.0" opacity="1"/>
<path d="M595.5 1276.3 L688.5 1276.3" fill="none" stroke="#8a8c8e" stroke-width="2.0" opacity="1"/>
<path d="M535.0 1336.6 L595.5 1336.6" fill="none" stroke="#6a6a6a" stroke-width="2.0" opacity="1"/>
<path d="M595.5 1336.6 L748.5 1336.6" fill="none" stroke="#8a8c8e" stroke-width="2.0" opacity="1"/>
<path d="M535.0 1410.2 L595.5 1410.2" fill="none" stroke="#6a6a6a" stroke-width="2.0" opacity="1"/>
<path d="M595.5 1410.2 L652.5 1410.2" fill="none" stroke="#8a8c8e" stroke-width="2.0" opacity="1"/>
<path d="M903.0 942.3 L964.0 942.3" fill="none" stroke="#6a6a6a" stroke-width="2.0" opacity="1"/>
<path d="M834.1 942.3 L903.0 942.3" fill="none" stroke="#8a8c8e" stroke-width="2.0" opacity="1"/>
<path d="M903.0 985.9 L964.0 985.9" fill="none" stroke="#6a6a6a" stroke-width="2.0" opacity="1"/>
<path d="M833.6 985.9 L903.0 985.9" fill="none" stroke="#8a8c8e" stroke-width="2.0" opacity="1"/>
<path d="M769.6 999.5 L769.6 1025.5" fill="none" stroke="#8a8c8e" stroke-width="2.0" opacity="1"/>
<path d="M903.0 1025.5 L964.0 1025.5" fill="none" stroke="#6a6a6a" stroke-width="2.0" opacity="1"/>
<path d="M768.6 1025.5 L903.0 1025.5" fill="none" stroke="#8a8c8e" stroke-width="2.0" opacity="1"/>
<path d="M903.0 1070.2 L964.0 1070.2" fill="none" stroke="#6a6a6a" stroke-width="2.0" opacity="1"/>
<path d="M846.5 1070.2 L903.0 1070.2" fill="none" stroke="#8a8c8e" stroke-width="2.0" opacity="1"/>
<path d="M903.0 1152.8 L964.0 1152.8" fill="none" stroke="#6a6a6a" stroke-width="2.0" opacity="1"/>
<path d="M844.7 1152.8 L903.0 1152.8" fill="none" stroke="#8a8c8e" stroke-width="2.0" opacity="1"/>
<path d="M903.0 1216.5 L964.0 1216.5" fill="none" stroke="#6a6a6a" stroke-width="2.0" opacity="1"/>
<path d="M748.5 1216.5 L903.0 1216.5" fill="none" stroke="#8a8c8e" stroke-width="2.0" opacity="1"/>
<path d="M903.0 1276.5 L964.0 1276.5" fill="none" stroke="#6a6a6a" stroke-width="2.0" opacity="1"/>
<path d="M808.1 1276.5 L903.0 1276.5" fill="none" stroke="#8a8c8e" stroke-width="2.0" opacity="1"/>
<path d="M903.0 1410.2 L964.0 1410.2" fill="none" stroke="#6a6a6a" stroke-width="2.0" opacity="1"/>
<path d="M845.6 1410.2 L903.0 1410.2" fill="none" stroke="#8a8c8e" stroke-width="2.0" opacity="1"/>
<path d="M748.9 1417.3 L748.9 1447.7" fill="none" stroke="#8a8c8e" stroke-width="2.0" opacity="1"/>
<path d="M748.9 1447.7 L964.0 1447.7" fill="none" stroke="#6a6a6a" stroke-width="2.0" opacity="1"/>
<circle cx="535.0" cy="898.0" r="4.6" fill="#761519"/><circle cx="535.0" cy="898.0" r="2.76" fill="#d4232f"/>
<circle cx="772.3" cy="923.5" r="4.6" fill="#761519"/><circle cx="772.3" cy="923.5" r="2.76" fill="#d4232f"/>
<circle cx="535.0" cy="938.4" r="4.6" fill="#761519"/><circle cx="535.0" cy="938.4" r="2.76" fill="#d4232f"/>
<circle cx="667.1" cy="938.3" r="4.6" fill="#761519"/><circle cx="667.1" cy="938.3" r="2.76" fill="#d4232f"/>
<circle cx="535.0" cy="980.5" r="4.6" fill="#761519"/><circle cx="535.0" cy="980.5" r="2.76" fill="#d4232f"/>
<circle cx="667.1" cy="980.2" r="4.6" fill="#761519"/><circle cx="667.1" cy="980.2" r="2.76" fill="#d4232f"/>
<circle cx="535.0" cy="1070.5" r="4.6" fill="#761519"/><circle cx="535.0" cy="1070.5" r="2.76" fill="#d4232f"/>
<circle cx="653.2" cy="1070.6" r="4.6" fill="#761519"/><circle cx="653.2" cy="1070.6" r="2.76" fill="#d4232f"/>
<circle cx="535.0" cy="1152.8" r="4.6" fill="#761519"/><circle cx="535.0" cy="1152.8" r="2.76" fill="#d4232f"/>
<circle cx="653.2" cy="1153.0" r="4.6" fill="#761519"/><circle cx="653.2" cy="1153.0" r="2.76" fill="#d4232f"/>
<circle cx="535.0" cy="1276.3" r="4.6" fill="#761519"/><circle cx="535.0" cy="1276.3" r="2.76" fill="#d4232f"/>
<circle cx="688.5" cy="1276.2" r="4.6" fill="#761519"/><circle cx="688.5" cy="1276.2" r="2.76" fill="#d4232f"/>
<circle cx="535.0" cy="1336.6" r="4.6" fill="#761519"/><circle cx="535.0" cy="1336.6" r="2.76" fill="#d4232f"/>
<circle cx="748.5" cy="1336.5" r="4.6" fill="#761519"/><circle cx="748.5" cy="1336.5" r="2.76" fill="#d4232f"/>
<circle cx="535.0" cy="1410.2" r="4.6" fill="#761519"/><circle cx="535.0" cy="1410.2" r="2.76" fill="#d4232f"/>
<circle cx="652.5" cy="1410.4" r="4.6" fill="#761519"/><circle cx="652.5" cy="1410.4" r="2.76" fill="#d4232f"/>
<circle cx="964.3" cy="942.3" r="4.6" fill="#761519"/><circle cx="964.3" cy="942.3" r="2.76" fill="#d4232f"/>
<circle cx="834.1" cy="941.8" r="4.6" fill="#761519"/><circle cx="834.1" cy="941.8" r="2.76" fill="#d4232f"/>
<circle cx="964.3" cy="985.9" r="4.6" fill="#761519"/><circle cx="964.3" cy="985.9" r="2.76" fill="#d4232f"/>
<circle cx="833.6" cy="985.9" r="4.6" fill="#761519"/><circle cx="833.6" cy="985.9" r="2.76" fill="#d4232f"/>
<circle cx="964.3" cy="1025.8" r="4.6" fill="#761519"/><circle cx="964.3" cy="1025.8" r="2.76" fill="#d4232f"/>
<circle cx="769.6" cy="999.5" r="4.6" fill="#761519"/><circle cx="769.6" cy="999.5" r="2.76" fill="#d4232f"/>
<circle cx="964.3" cy="1070.2" r="4.6" fill="#761519"/><circle cx="964.3" cy="1070.2" r="2.76" fill="#d4232f"/>
<circle cx="846.5" cy="1070.3" r="4.6" fill="#761519"/><circle cx="846.5" cy="1070.3" r="2.76" fill="#d4232f"/>
<circle cx="964.3" cy="1152.8" r="4.6" fill="#761519"/><circle cx="964.3" cy="1152.8" r="2.76" fill="#d4232f"/>
<circle cx="844.7" cy="1153.0" r="4.6" fill="#761519"/><circle cx="844.7" cy="1153.0" r="2.76" fill="#d4232f"/>
<circle cx="964.3" cy="1216.5" r="4.6" fill="#761519"/><circle cx="964.3" cy="1216.5" r="2.76" fill="#d4232f"/>
<circle cx="748.5" cy="1216.2" r="4.6" fill="#761519"/><circle cx="748.5" cy="1216.2" r="2.76" fill="#d4232f"/>
<circle cx="964.3" cy="1276.5" r="4.6" fill="#761519"/><circle cx="964.3" cy="1276.5" r="2.76" fill="#d4232f"/>
<circle cx="808.1" cy="1276.2" r="4.6" fill="#761519"/><circle cx="808.1" cy="1276.2" r="2.76" fill="#d4232f"/>
<circle cx="964.3" cy="1410.2" r="4.6" fill="#761519"/><circle cx="964.3" cy="1410.2" r="2.76" fill="#d4232f"/>
<circle cx="845.6" cy="1410.2" r="4.6" fill="#761519"/><circle cx="845.6" cy="1410.2" r="2.76" fill="#d4232f"/>
<circle cx="964.3" cy="1447.7" r="4.6" fill="#761519"/><circle cx="964.3" cy="1447.7" r="2.76" fill="#d4232f"/>
<circle cx="748.9" cy="1417.3" r="4.6" fill="#761519"/><circle cx="748.9" cy="1417.3" r="2.76" fill="#d4232f"/>
<text x="447.3" y="904.2" font-size="13.8" fill="#333" font-weight="normal" text-anchor="start" textLength="74.4" lengthAdjust="spacingAndGlyphs" stroke="#333" stroke-width="0.3">Rudder icon</text>
<text x="449.0" y="934.6" font-size="8.6" fill="#444" font-weight="normal" text-anchor="start" textLength="65.3" lengthAdjust="spacingAndGlyphs" stroke="#444" stroke-width="0.3">Remote control</text>
<text x="449.0" y="947.6" font-size="8.6" fill="#444" font-weight="normal" text-anchor="start" textLength="31.0" lengthAdjust="spacingAndGlyphs" stroke="#444" stroke-width="0.3">voltage</text>
<text x="447.3" y="983.0" font-size="11.8" fill="#333" font-weight="normal" text-anchor="start" textLength="75.4" lengthAdjust="spacingAndGlyphs" stroke="#333" stroke-width="0.3">Return voltage</text>
<text x="465.9" y="1066.5" font-size="10" fill="#3a3a3a" font-weight="normal" text-anchor="start" textLength="38.1" lengthAdjust="spacingAndGlyphs" stroke="#3a3a3a" stroke-width="0.3">Channel</text>
<text x="465.9" y="1080.6" font-size="10" fill="#3a3a3a" font-weight="normal" text-anchor="start" textLength="18.0" lengthAdjust="spacingAndGlyphs" stroke="#3a3a3a" stroke-width="0.3">Five</text>
<text x="447.0" y="1146.7" font-size="10.5" fill="#3a3a3a" font-weight="normal" text-anchor="start" textLength="51.7" lengthAdjust="spacingAndGlyphs" stroke="#3a3a3a" stroke-width="0.3">Directional</text>
<text x="447.0" y="1161.6" font-size="10.5" fill="#3a3a3a" font-weight="normal" text-anchor="start" textLength="27.5" lengthAdjust="spacingAndGlyphs" stroke="#3a3a3a" stroke-width="0.3">travel</text>
<text x="447.0" y="1268.3" font-size="9" fill="#444" font-weight="normal" text-anchor="start" textLength="67.7" lengthAdjust="spacingAndGlyphs" stroke="#444" stroke-width="0.3">Fine adjustment</text>
<text x="447.0" y="1281.1" font-size="9" fill="#444" font-weight="normal" text-anchor="start" textLength="48.0" lengthAdjust="spacingAndGlyphs" stroke="#444" stroke-width="0.3">of direction</text>
<text x="447.0" y="1327.4" font-size="9.5" fill="#444" font-weight="normal" text-anchor="start" textLength="55.6" lengthAdjust="spacingAndGlyphs" stroke="#444" stroke-width="0.3">Tuning of the</text>
<text x="447.0" y="1340.2" font-size="9.5" fill="#444" font-weight="normal" text-anchor="start" textLength="72.6" lengthAdjust="spacingAndGlyphs" stroke="#444" stroke-width="0.3">accelerator pedal</text>
<text x="447.0" y="1401.3" font-size="8.6" fill="#444" font-weight="normal" text-anchor="start" textLength="52.4" lengthAdjust="spacingAndGlyphs" stroke="#444" stroke-width="0.3">Mixed control</text>
<text x="447.0" y="1412.9" font-size="8.6" fill="#444" font-weight="normal" text-anchor="start" textLength="31.0" lengthAdjust="spacingAndGlyphs" stroke="#444" stroke-width="0.3">settings</text>
<text x="984.7" y="951.2" font-size="18" fill="#333" font-weight="normal" text-anchor="start" textLength="108.7" lengthAdjust="spacingAndGlyphs" stroke="#333" stroke-width="0.3">Return signal</text>
<text x="984.7" y="992.8" font-size="18" fill="#333" font-weight="normal" text-anchor="start" textLength="168.4" lengthAdjust="spacingAndGlyphs" stroke="#333" stroke-width="0.3">Hybrid control mode</text>
<text x="984.7" y="1035.8" font-size="18" fill="#333" font-weight="normal" text-anchor="start" textLength="77.8" lengthAdjust="spacingAndGlyphs" stroke="#333" stroke-width="0.3">Lock icon</text>
<text x="984.7" y="1079.1" font-size="18" fill="#333" font-weight="normal" text-anchor="start" textLength="96.0" lengthAdjust="spacingAndGlyphs" stroke="#333" stroke-width="0.3">Channel Six</text>
<text x="984.7" y="1159.1" font-size="18" fill="#333" font-weight="normal" text-anchor="start" textLength="116.4" lengthAdjust="spacingAndGlyphs" stroke="#333" stroke-width="0.3">Throttle travel</text>
<text x="985.0" y="1217.6" font-size="13" fill="#3a3a3a" font-weight="normal" text-anchor="start" textLength="167.4" lengthAdjust="spacingAndGlyphs" stroke="#3a3a3a" stroke-width="0.3">Tuning of the accelerator pedal</text>
<text x="985.0" y="1274.6" font-size="13" fill="#3a3a3a" font-weight="normal" text-anchor="start" textLength="160.0" lengthAdjust="spacingAndGlyphs" stroke="#3a3a3a" stroke-width="0.3">Fine adjustment of direction</text>
<text x="985.0" y="1408.0" font-size="11.5" fill="#3a3a3a" font-weight="normal" text-anchor="start" textLength="166.4" lengthAdjust="spacingAndGlyphs" stroke="#3a3a3a" stroke-width="0.3">The front and back of the channel</text>
<text x="985.0" y="1446.6" font-size="18" fill="#333" font-weight="normal" text-anchor="start" textLength="108.0" lengthAdjust="spacingAndGlyphs" stroke="#333" stroke-width="0.3">Power switch</text>
</svg>
</body></html>
